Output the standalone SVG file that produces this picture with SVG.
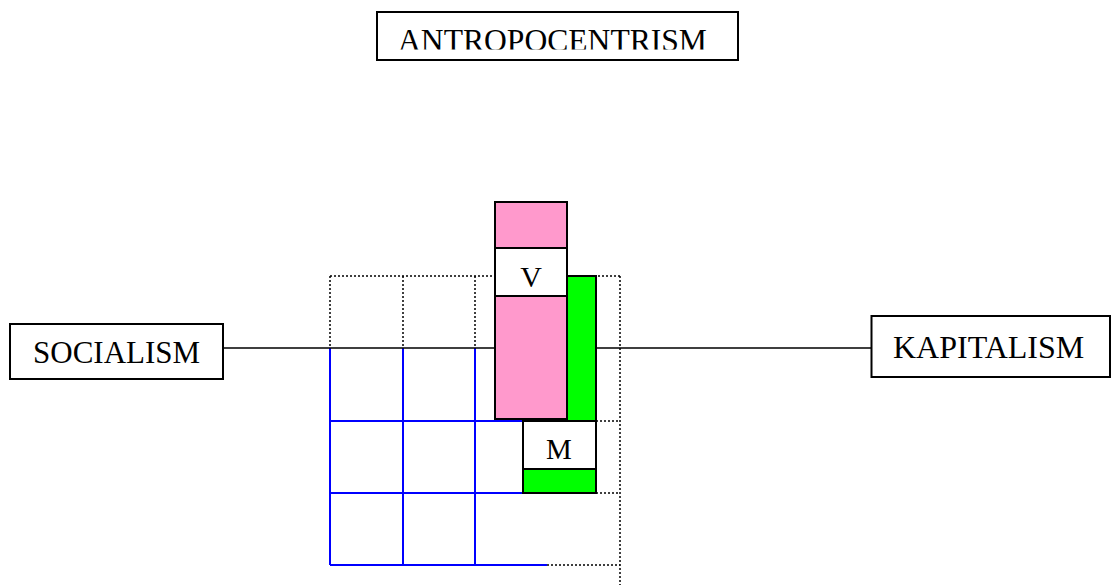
<svg xmlns="http://www.w3.org/2000/svg" width="1112" height="585" viewBox="0 0 1112 585">
<style>
.box{fill:#fff;stroke:#000;stroke-width:2}
.t{font-family:"Liberation Serif",serif;fill:#000}
.dot{fill:none;stroke:#000;stroke-width:1.5;stroke-dasharray:2,2}
.blue{fill:none;stroke:#0000ff;stroke-width:2}
.con{fill:none;stroke:#000;stroke-width:1.5}
.pink{fill:#ff99cc;stroke:#000;stroke-width:2}
.green{fill:#00ff00;stroke:#000;stroke-width:2}
</style>
<defs>
<clipPath id="clipTop"><rect x="377" y="12" width="362" height="37.5"/></clipPath>
</defs>
<rect width="1112" height="585" fill="#fff"/>
<g id="grid">
<path class="dot" d="M330,276H620M330,276V348M403,276V348M475,276V348M620,276V585M596,421H620M596,493H620M547,565H620"/>
<path class="blue" d="M330,348V565M403,348V565M475,348V565M330,421H523M330,493H523M330,565H547"/>
</g>
<g id="connectors">
<path class="con" d="M224,348H495M596,348H871"/>
</g>
<g id="antropocentrism">
<rect class="box" x="377" y="12" width="361" height="48"/>
<text class="t" x="398" y="51" font-size="31.6" clip-path="url(#clipTop)">ANTROPOCENTRISM</text>
</g>
<g id="socialism">
<rect class="box" x="10" y="324" width="213" height="55"/>
<text class="t" x="33" y="363" font-size="31">SOCIALISM</text>
</g>
<g id="kapitalism">
<rect class="box" x="871.5" y="316" width="238.5" height="61"/>
<text class="t" x="893" y="358" font-size="32">KAPITALISM</text>
</g>
<g id="green">
<rect class="green" x="567" y="276" width="29" height="145"/>
<rect class="green" x="523" y="421" width="73" height="72"/>
</g>
<g id="pink">
<rect class="pink" x="495" y="202" width="72" height="217"/>
</g>
<g id="V">
<rect class="box" x="495" y="248" width="72" height="48"/>
<text class="t" x="531" y="287" font-size="30" text-anchor="middle">V</text>
</g>
<g id="M">
<rect class="box" x="523" y="421" width="73" height="48"/>
<text class="t" x="559" y="459" font-size="29" text-anchor="middle">M</text>
</g>
</svg>
